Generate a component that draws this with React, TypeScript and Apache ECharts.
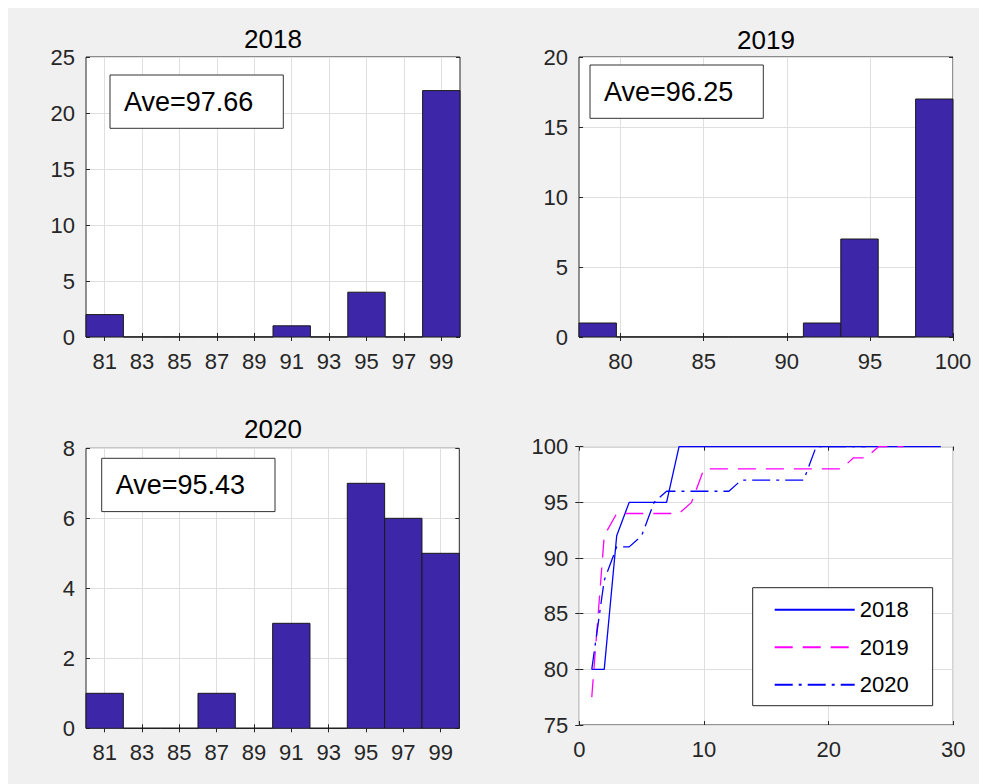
import React, { useEffect, useRef } from "react";
import * as echarts from "echarts";

// Sorted scores per year (x = rank 1..n)
const scores2018 = [80, 80, 92, 95, 95, 95, 95, 100, 100, 100, 100, 100, 100, 100, 100, 100, 100, 100, 100, 100, 100, 100, 100, 100, 100, 100, 100, 100, 100];
const scores2019 = [77.5, 92, 94, 94, 94, 94, 94, 94, 95, 98, 98, 98, 98, 98, 98, 98, 98, 98, 98, 98, 98, 99, 99, 100, 100, 100];
const scores2020 = [80, 88, 91, 91, 92, 95, 96, 96, 96, 96, 96, 96, 97, 97, 97, 97, 97, 97, 100, 100, 100, 100, 100];

// Histogram counts (10 equal bins over each range)
const hist2018 = [2, 0, 0, 0, 0, 1, 0, 4, 0, 22];
const hist2019 = [1, 0, 0, 0, 0, 0, 1, 7, 0, 17];
const hist2020 = [1, 0, 0, 1, 0, 3, 0, 7, 6, 5];
const range2018 = [80, 100];
const range2019 = [77.5, 100];
const range2020 = [80, 100];

// Tick labels
const xTicksOdd = [81, 83, 85, 87, 89, 91, 93, 95, 97, 99];
const xTicks2019 = [80, 85, 90, 95, 100];
const years = ["2018", "2019", "2020"];

const FONT = "'Liberation Sans', Arial, Helvetica, sans-serif";
const AXIS_COLOR = "#262626";
const GRID_COLOR = "#DFDFDF";
const BAR_COLOR = "#3E26A8";

function binData(counts: number[], range: number[]) {
  const w = (range[1] - range[0]) / counts.length;
  return counts.map((c, i) => [range[0] + i * w, range[0] + (i + 1) * w, c]);
}

function mean(a: number[]) {
  return a.reduce((s, v) => s + v, 0) / a.length;
}

const histRender = (params: any, api: any) => {
  const lo = api.value(0);
  const hi = api.value(1);
  const c = api.value(2);
  const p0 = api.coord([lo, c]);
  const p1 = api.coord([hi, 0]);
  return {
    type: "rect",
    shape: { x: p0[0], y: p0[1], width: p1[0] - p0[0], height: p1[1] - p0[1] },
    style: { fill: BAR_COLOR, stroke: "#1A1A1A", lineWidth: 1 },
  };
};

export default function App() {
  const ref = useRef<HTMLDivElement>(null);

  useEffect(() => {
    if (!ref.current) return;
    const chart = echarts.init(ref.current, undefined, { renderer: "svg" });

    const grids = [
      { left: 78, top: 50, width: 374, height: 280 },
      { left: 571, top: 50, width: 374, height: 280 },
      { left: 78, top: 441.3, width: 373.3, height: 280 },
      { left: 571.3, top: 439.7, width: 374, height: 278.3 },
    ].map((g) => ({
      ...g,
      show: true,
      backgroundColor: "#FFFFFF",
      borderColor: AXIS_COLOR,
      borderWidth: 1,
    }));

    const label = { color: AXIS_COLOR, fontSize: 22, fontFamily: FONT };
    const tick = { inside: true, length: 4, lineStyle: { color: AXIS_COLOR, width: 1 } };
    const split = { show: true, lineStyle: { color: GRID_COLOR, width: 1 } };

    const xPair = (gridIndex: number, extra: any) => [
      {
        type: "value",
        gridIndex,
        position: "bottom",
        axisLine: { show: false },
        axisTick: { ...tick, ...(extra.customValues ? { customValues: extra.customValues } : {}) },
        axisLabel: { ...label, margin: 13, ...(extra.customValues ? { customValues: extra.customValues } : {}) },
        splitLine: split,
        ...extra.range,
      },
      {
        type: "value",
        gridIndex,
        position: "top",
        axisLine: { show: false },
        axisTick: { ...tick, ...(extra.customValues ? { customValues: extra.customValues } : {}) },
        axisLabel: { show: false },
        splitLine: { show: false },
        ...extra.range,
      },
    ];

    const yPair = (gridIndex: number, range: any) => [
      {
        type: "value",
        gridIndex,
        position: "left",
        axisLine: { show: false },
        axisTick: tick,
        axisLabel: { ...label, margin: 11 },
        splitLine: split,
        ...range,
      },
      {
        type: "value",
        gridIndex,
        position: "right",
        axisLine: { show: false },
        axisTick: tick,
        axisLabel: { show: false },
        splitLine: { show: false },
        ...range,
      },
    ];

    const xAxis = [
      ...xPair(0, { range: { min: range2018[0], max: range2018[1] }, customValues: xTicksOdd }),
      ...xPair(1, { range: { min: range2019[0], max: range2019[1] }, customValues: xTicks2019 }),
      ...xPair(2, { range: { min: range2020[0], max: range2020[1] }, customValues: xTicksOdd }),
      ...xPair(3, { range: { min: 0, max: 30, interval: 10 } }),
    ];
    const yAxis = [
      ...yPair(0, { min: 0, max: 25, interval: 5 }),
      ...yPair(1, { min: 0, max: 20, interval: 5 }),
      ...yPair(2, { min: 0, max: 8, interval: 2 }),
      ...yPair(3, { min: 75, max: 100, interval: 5 }),
    ];

    const histSeries = (idx: number, counts: number[], range: number[]) => ({
      type: "custom",
      xAxisIndex: idx * 2,
      yAxisIndex: idx * 2,
      renderItem: histRender,
      encode: { x: [0, 1], y: 2 },
      data: binData(counts, range),
      z: 3,
      silent: true,
    });

    const lineSeries = (name: string, data: number[], color: string, type: any) => ({
      type: "line",
      name,
      xAxisIndex: 6,
      yAxisIndex: 6,
      data: data.map((v, i) => [i + 1, v]),
      symbol: "none",
      showSymbol: false,
      lineStyle: { color, width: 1.3, type },
      itemStyle: { color },
      z: 3,
      silent: true,
    });

    const titleText = (text: string, x: number, y: number) => ({
      type: "text",
      x,
      y,
      z: 100,
      style: {
        text,
        fill: "#000000",
        fontSize: 26,
        fontFamily: FONT,
        align: "center",
        verticalAlign: "middle",
      },
    });

    const aveBox = (scores: number[], x: number, y: number) => [
      {
        type: "rect",
        x,
        y,
        z: 100,
        shape: { x: 0, y: 0, width: 173.3, height: 53.3 },
        style: { fill: "#FFFFFF", stroke: "#333333", lineWidth: 1 },
      },
      {
        type: "text",
        x: x + 14,
        y: y + 26.7,
        z: 101,
        style: {
          text: "Ave=" + mean(scores).toFixed(2),
          fill: "#000000",
          fontSize: 27,
          fontFamily: FONT,
          align: "left",
          verticalAlign: "middle",
        },
      },
    ];

    chart.setOption({
      animation: false,
      backgroundColor: "#F0F0F0",
      textStyle: { fontFamily: FONT },
      grid: grids,
      xAxis,
      yAxis,
      legend: {
        data: years,
        orient: "vertical",
        left: 744.7,
        top: 580.7,
        itemWidth: 80,
        itemHeight: 14,
        itemGap: 13.5,
        padding: [10, 24, 9, 21],
        backgroundColor: "#FFFFFF",
        borderColor: AXIS_COLOR,
        borderWidth: 1,
        borderRadius: 0,
        itemStyle: { opacity: 0 },
        textStyle: { fontSize: 22, color: "#000000", fontFamily: FONT, lineHeight: 24 },
        selectedMode: false,
      },
      graphic: [
        titleText(years[0], 265, 32.2),
        titleText(years[1], 758, 33),
        titleText(years[2], 265, 421.7),
        ...aveBox(scores2018, 102, 68),
        ...aveBox(scores2019, 582, 58),
        ...aveBox(scores2020, 93.7, 451.3),
      ],
      series: [
        histSeries(0, hist2018, range2018),
        histSeries(1, hist2019, range2019),
        histSeries(2, hist2020, range2020),
        lineSeries(years[0], scores2018, "#0000FF", "solid"),
        lineSeries(years[1], scores2019, "#FF00FF", [18, 10]),
        lineSeries(years[2], scores2020, "#0000FF", [18, 6, 3, 6]),
      ],
    });

    return () => chart.dispose();
  }, []);

  return <div ref={ref} style={{ width: 979, height: 777, marginTop: -1 }} />;
}
